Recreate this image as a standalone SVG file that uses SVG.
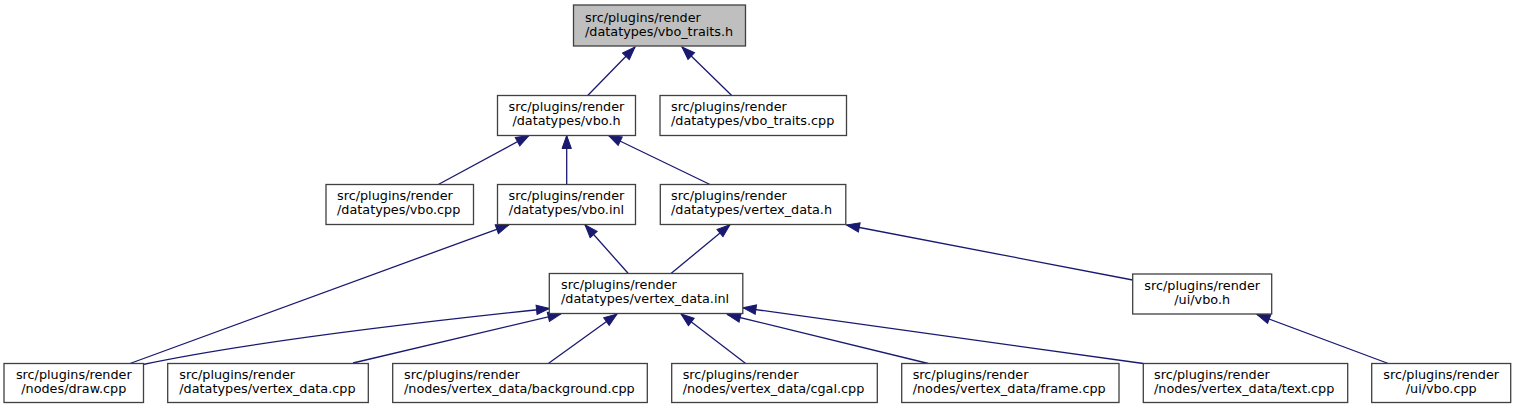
<svg xmlns="http://www.w3.org/2000/svg" width="1516" height="409" viewBox="0 0 1516 409">
<style>
.node rect{fill:#ffffff;stroke:#404040;stroke-width:1.3}
.node text{font-family:"DejaVu Sans",sans-serif;font-size:12.8px;fill:#000000}
.c{text-anchor:middle}
.edges path{fill:none;stroke:#191970;stroke-width:1.3;marker-end:url(#arr)}
</style>
<defs>
<marker id="arr" markerUnits="userSpaceOnUse" viewBox="-1 -1 16 12" markerWidth="16" markerHeight="12" refX="13" refY="5" orient="auto">
<path d="M0,0.3 L13,5 L0,9.7 z" fill="#191970" stroke="#191970" stroke-width="1"/>
</marker>
</defs>
<rect width="1516" height="409" fill="#ffffff"/>
<g class="edges">
<path d="M587.7,95.5 L635,47"/>
<path d="M731.7,95.5 L682,47"/>
<path d="M438.3,184.5 L529,135.5"/>
<path d="M566.7,184.5 L566.7,135.5"/>
<path d="M710,184.5 L608.5,135.5"/>
<path d="M130,363.5 L509,224.8"/>
<path d="M628.3,273.5 L585,224.8"/>
<path d="M671,273.5 L730,224.8"/>
<path d="M1132.7,280 L846.5,225"/>
<path d="M143,364.5 C250,342 420,322 549.5,308.5"/>
<path d="M353,363 L561,313.8"/>
<path d="M548.3,363.5 L617,314"/>
<path d="M745.7,363.5 L681,314"/>
<path d="M928.3,363.5 L727.5,314.5"/>
<path d="M1143.3,363.5 L743,307.8"/>
<path d="M1388.3,363.5 L1257,314.5"/>
</g>
<g id="node-vbo_traits_h" class="node">
<rect x="573.5" y="5" width="172" height="41" style="fill:#bfbfbf"/>
<text x="585" y="21.5">src/plugins/render</text>
<text x="585" y="36">/datatypes/vbo_traits.h</text>
</g>
<g id="node-vbo_h" class="node">
<rect x="497.5" y="95.5" width="138" height="40"/>
<text class="c" x="566.5" y="111">src/plugins/render</text>
<text class="c" x="566.5" y="125">/datatypes/vbo.h</text>
</g>
<g id="node-vbo_traits_cpp" class="node">
<rect x="660" y="95.5" width="186.5" height="40"/>
<text x="671" y="111">src/plugins/render</text>
<text x="671" y="125">/datatypes/vbo_traits.cpp</text>
</g>
<g id="node-vbo_cpp" class="node">
<rect x="326" y="184.5" width="147.5" height="40"/>
<text x="337" y="200">src/plugins/render</text>
<text x="337" y="214">/datatypes/vbo.cpp</text>
</g>
<g id="node-vbo_inl" class="node">
<rect x="497.5" y="184.5" width="138" height="40"/>
<text class="c" x="566.5" y="200">src/plugins/render</text>
<text class="c" x="566.5" y="214">/datatypes/vbo.inl</text>
</g>
<g id="node-vertex_data_h" class="node">
<rect x="660.3" y="184.5" width="185.5" height="40"/>
<text x="671" y="200">src/plugins/render</text>
<text x="671" y="214">/datatypes/vertex_data.h</text>
</g>
<g id="node-vertex_data_inl" class="node">
<rect x="549.3" y="273.5" width="193.5" height="40"/>
<text x="561" y="289">src/plugins/render</text>
<text x="561" y="303">/datatypes/vertex_data.inl</text>
</g>
<g id="node-ui_vbo_h" class="node">
<rect x="1132.7" y="274" width="139" height="40"/>
<text class="c" x="1202.2" y="289.5">src/plugins/render</text>
<text class="c" x="1202.2" y="303.5">/ui/vbo.h</text>
</g>
<g id="node-draw_cpp" class="node">
<rect x="4" y="363.5" width="139.5" height="39"/>
<text class="c" x="73.8" y="379">src/plugins/render</text>
<text class="c" x="73.8" y="392.5">/nodes/draw.cpp</text>
</g>
<g id="node-vertex_data_cpp" class="node">
<rect x="167.7" y="363.5" width="200.6" height="39"/>
<text x="179.3" y="379">src/plugins/render</text>
<text x="179.3" y="392.5">/datatypes/vertex_data.cpp</text>
</g>
<g id="node-background_cpp" class="node">
<rect x="392.7" y="363.5" width="254.6" height="39"/>
<text x="404" y="379">src/plugins/render</text>
<text x="404" y="392.5">/nodes/vertex_data/background.cpp</text>
</g>
<g id="node-cgal_cpp" class="node">
<rect x="671.7" y="363.5" width="205.6" height="39"/>
<text x="682.7" y="379">src/plugins/render</text>
<text x="682.7" y="392.5">/nodes/vertex_data/cgal.cpp</text>
</g>
<g id="node-frame_cpp" class="node">
<rect x="901.7" y="363.5" width="217.3" height="39"/>
<text x="912.7" y="379">src/plugins/render</text>
<text x="912.7" y="392.5">/nodes/vertex_data/frame.cpp</text>
</g>
<g id="node-text_cpp" class="node">
<rect x="1143.3" y="363.5" width="204.4" height="39"/>
<text x="1154" y="379">src/plugins/render</text>
<text x="1154" y="392.5">/nodes/vertex_data/text.cpp</text>
</g>
<g id="node-ui_vbo_cpp" class="node">
<rect x="1371.7" y="363.5" width="139" height="39"/>
<text class="c" x="1441.2" y="379">src/plugins/render</text>
<text class="c" x="1441.2" y="392.5">/ui/vbo.cpp</text>
</g>
</svg>
